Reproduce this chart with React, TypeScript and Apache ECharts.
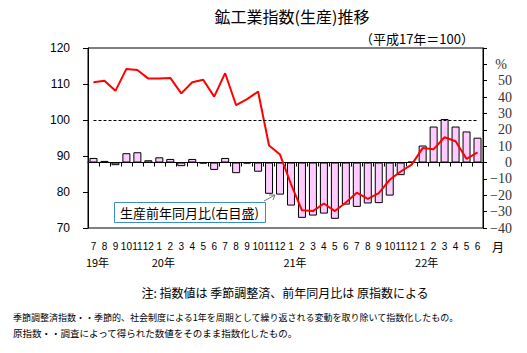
import React, { useEffect, useRef } from "react";
import * as echarts from "echarts";

const monthLabels = [
  "7", "8", "9", "10", "11", "12",
  "1", "2", "3", "4", "5", "6", "7", "8", "9", "10", "11", "12",
  "1", "2", "3", "4", "5", "6", "7", "8", "9", "10", "11", "12",
  "1", "2", "3", "4", "5", "6",
];
const yearLabels = [
  "19年", "", "", "", "", "",
  "20年", "", "", "", "", "", "", "", "", "", "", "",
  "21年", "", "", "", "", "", "", "", "", "", "", "",
  "22年", "", "", "", "", "",
];
// 生産指数（季節調整済, 左目盛）
const indexValues = [
  110.5, 110.9, 108.1, 114.2, 113.9, 111.5,
  111.5, 111.7, 107.4, 110.5, 111.2, 106.5, 113.0, 104.1, 105.8, 107.9, 92.9, 90.4,
  82.2, 74.9, 74.7, 76.8, 74.7, 77.1, 79.8, 78.1, 79.7, 83.4, 85.7, 87.6,
  92.2, 91.9, 95.2, 94.1, 89.2, 91.0,
];
// 生産前年同月比（原指数, 右目盛, %）
const yoyValues = [
  2.8, 1.0, -1.6, 5.7, 6.3, 1.4,
  3.2, 2.2, -2.2, 2.2, -0.6, -4.5, 2.8, -6.5, -0.6, -5.6, -19.1, -19.6,
  -26.3, -33.8, -32.4, -31.2, -34.4, -25.7, -27.1, -25.0, -24.8, -20.2, -7.7, 0.5,
  10.4, 22.0, 26.6, 22.0, 19.0, 15.2,
];
const baseLine = 100;

const JP = "'Noto Sans CJK JP', sans-serif";

export default function App() {
  const ref = useRef<HTMLDivElement>(null);
  useEffect(() => {
    if (!ref.current) return;
    const chart = echarts.init(ref.current, undefined, { renderer: "svg" });
    const categories = monthLabels.map((m, i) => `${i}-${m}`);
    const option: any = {
      animation: false,
      backgroundColor: "#fff",
      textStyle: { fontFamily: JP },
      grid: {
        left: 88,
        right: 44,
        top: 48,
        bottom: 125,
        show: true,
        borderColor: "#000",
        borderWidth: 1,
        backgroundColor: "transparent",
      },
      xAxis: {
        type: "category",
        data: categories,
        boundaryGap: true,
        axisLine: { lineStyle: { color: "#000", width: 1 } },
        axisTick: { show: true, length: 4, lineStyle: { color: "#000" }, interval: 0 },
        axisLabel: {
          interval: 0,
          margin: 10,
          color: "#000",
          formatter: (_v: string, idx: number) =>
            yearLabels[idx]
              ? `{m|${monthLabels[idx]}}\n{y|${yearLabels[idx]}}`
              : `{m|${monthLabels[idx]}}`,
          rich: {
            m: { fontFamily: "'Liberation Sans', sans-serif", fontSize: 10, lineHeight: 16, color: "#000" },
            y: { fontFamily: JP, fontSize: 11, lineHeight: 16, color: "#000", padding: [0, 0, 0, 8] },
          },
        },
        splitLine: { show: false },
      },
      yAxis: [
        {
          type: "value",
          min: 70,
          max: 120,
          interval: 10,
          position: "left",
          axisLine: { show: true, lineStyle: { color: "#000" } },
          axisTick: { show: true, length: 5, lineStyle: { color: "#000" } },
          axisLabel: {
            margin: 18,
            color: "#000",
            fontFamily: "'Liberation Sans', sans-serif",
            fontSize: 12,
          },
          splitLine: { show: false },
        },
        {
          type: "value",
          min: -40,
          max: 70,
          interval: 10,
          position: "right",
          axisLine: { show: true, lineStyle: { color: "#000" } },
          axisTick: { show: true, length: 4, lineStyle: { color: "#000" } },
          axisLabel: {
            margin: 29,
            align: "right",
            color: "#333",
            fontFamily: "'Liberation Serif', serif",
            fontSize: 14,
            formatter: (v: number) => {
              if (v === 70) return "";
              if (v === 60) return "{p|%}";
              return v < 0 ? `−${Math.abs(v)}` : `${v}`;
            },
            rich: {
              p: { fontFamily: "'Liberation Serif', serif", fontSize: 14, color: "#333", padding: [0, 5, 0, 0] },
            },
          },
          splitLine: { show: false },
        },
      ],
      series: [
        {
          type: "bar",
          yAxisIndex: 1,
          data: yoyValues,
          barWidth: 8,
          itemStyle: { color: "#ffccff", borderColor: "#000", borderWidth: 1 },
          z: 2,
        },
        {
          type: "line",
          yAxisIndex: 0,
          data: indexValues,
          symbol: "none",
          lineStyle: { color: "#ff0000", width: 2 },
          z: 3,
          markLine: {
            silent: true,
            symbol: "none",
            label: { show: false },
            lineStyle: { color: "#000", type: [3, 2], width: 1 },
            data: [[{ coord: [0, baseLine] }, { coord: [categories.length - 1, baseLine] }]],
          },
        },
      ],
      graphic: [
        {
          type: "text",
          x: 292,
          y: 16,
          style: {
            text: "鉱工業指数(生産)推移",
            fontFamily: JP,
            fontSize: 16,
            fill: "#000",
            textAlign: "center",
            textVerticalAlign: "middle",
          },
        },
        {
          type: "text",
          x: 474,
          y: 38,
          style: {
            text: "（平成17年＝100）",
            fontFamily: JP,
            fontSize: 13,
            fill: "#000",
            textAlign: "right",
            textVerticalAlign: "middle",
          },
        },
        {
          type: "text",
          x: 492,
          y: 246,
          style: {
            text: "月",
            fontFamily: JP,
            fontSize: 12,
            fill: "#000",
            textAlign: "left",
            textVerticalAlign: "middle",
          },
        },
        {
          type: "rect",
          shape: { x: 114.5, y: 202.5, width: 151, height: 20 },
          style: { fill: "#fff", stroke: "#3a8fc8", lineWidth: 1 },
          z: 10,
        },
        {
          type: "text",
          x: 120,
          y: 212.5,
          z: 11,
          style: {
            text: "生産前年同月比(右目盛)",
            fontFamily: JP,
            fontSize: 13,
            fill: "#000",
            textAlign: "left",
            textVerticalAlign: "middle",
          },
        },
        {
          type: "line",
          shape: { x1: 264, y1: 201, x2: 275, y2: 195 },
          style: { stroke: "#777", lineWidth: 1 },
          z: 11,
        },
        {
          type: "polyline",
          shape: { points: [[269, 195], [275, 195], [273, 200]] },
          style: { stroke: "#777", lineWidth: 1, fill: "none" },
          z: 11,
        },
        {
          type: "text",
          x: 285,
          y: 292,
          style: {
            text: "注: 指数値は 季節調整済、前年同月比は 原指数による",
            fontFamily: JP,
            fontSize: 12,
            fill: "#000",
            textAlign: "center",
            textVerticalAlign: "middle",
          },
        },
        {
          type: "text",
          x: 13,
          y: 317,
          style: {
            text: "季節調整済指数・・季節的、社会制度による1年を周期として繰り返される変動を取り除いて指数化したもの。",
            fontFamily: JP,
            fontSize: 9,
            fill: "#000",
            textAlign: "left",
            textVerticalAlign: "middle",
          },
        },
        {
          type: "text",
          x: 13,
          y: 333,
          style: {
            text: "原指数・・調査によって得られた数値をそのまま指数化したもの。",
            fontFamily: JP,
            fontSize: 9.5,
            fill: "#000",
            textAlign: "left",
            textVerticalAlign: "middle",
          },
        },
      ],
    };
    chart.setOption(option);
    return () => chart.dispose();
  }, []);
  return (
    <div
      ref={ref}
      style={{ position: "fixed", left: 0, top: 0, width: 527, height: 353 }}
    />
  );
}
